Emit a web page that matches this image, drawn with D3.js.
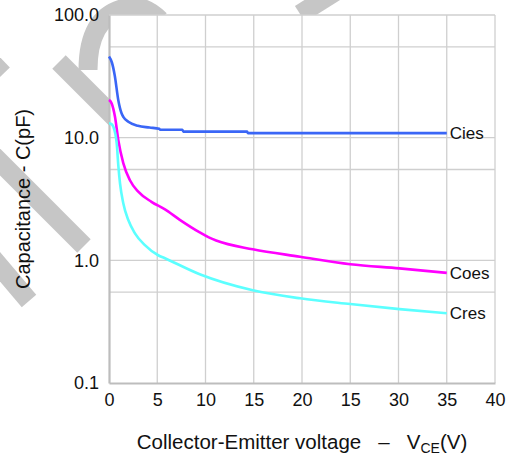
<!DOCTYPE html>
<html>
<head>
<meta charset="utf-8">
<script src="https://cdn.jsdelivr.net/npm/d3@7"></script>
<style>
  body { margin: 0; background: #fff; }
  svg { display: block; font-family: "Liberation Sans", Arial, sans-serif; }
</style>
</head>
<body>
<svg id="chart" width="509" height="457"></svg>
<script>
// capacitance vs collector-emitter voltage
const ciesV = [0, 0.3, 0.6, 0.96, 1.3, 1.5, 2, 3, 4.2, 5.2, 5.3, 7.6, 7.7, 14.3, 14.4, 35];
const ciesC = [45.8, 41, 32, 20.3, 15.8, 14.7, 13.5, 12.5, 12.1, 11.8, 11.6, 11.6, 11.2, 11.2, 10.9, 10.9];

const coesV = [0, 0.28, 0.62, 0.96, 1.48, 2.17, 3.03, 4.4, 5.8, 7.3, 9.4, 10.4, 11.1, 14.9, 19.8, 25, 30.1, 35];
const coesC = [20.3, 19, 14.8, 9.6, 6.2, 4.5, 3.63, 3.0, 2.6, 2.15, 1.69, 1.53, 1.45, 1.23, 1.07, 0.93, 0.86, 0.79];

const cresV = [0, 0.2, 0.45, 0.8, 0.96, 1.14, 1.48, 2.0, 2.69, 3.72, 5.1, 5.8, 9.4, 14.9, 19.8, 25, 30.1, 35];
const cresC = [13.1, 13, 12.3, 9.0, 6.0, 4.25, 2.92, 2.13, 1.66, 1.33, 1.10, 1.04, 0.77, 0.57, 0.49, 0.44, 0.40, 0.37];

const seriesNames = ["Cies", "Coes", "Cres"];
const seriesColors = ["#3a66f6", "#ff00ff", "#5cffff"];

const xTickValues = [0, 5, 10, 15, 20, 25, 30, 35, 40];
const xTickLabels = ["0", "5", "10", "15", "20", "15", "30", "35", "40"];
const yTickValues = [100, 10, 1, 0.1];
const yTickLabels = ["100.0", "10.0", "1.0", "0.1"];
const yGridValues = [55, 10, 5.5, 1, 0.55];

const margin = { top: 15, right: 14, bottom: 74, left: 109 };
const svg = d3.select("#chart");
const W = +svg.attr("width"), H = +svg.attr("height");
const w = W - margin.left - margin.right;
const h = H - margin.top - margin.bottom;

// watermark strokes behind the plot
const wm = svg.append("g")
  .attr("stroke", "#c6c6c6")
  .attr("stroke-width", 19)
  .attr("fill", "none");
[[[59, 62], [160, 163]], [[-10, 152], [84, 246]], [[-10, 255], [29, 301]],
 [[-20, 50], [3, 74]], [[335, -8], [300, 14]]].forEach(s => {
  wm.append("path").attr("d", d3.line()(s));
});
wm.append("path").attr("d", "M88,70 C88,35 100,14 125,8 C140,5 150,10 160,20");

const g = svg.append("g").attr("transform", `translate(${margin.left},${margin.top})`);

const x = d3.scaleLinear().domain([0, 40]).range([0, w]);
const y = d3.scaleLog().domain([0.1, 100]).range([h, 0]);

g.append("rect").attr("width", w).attr("height", h).attr("fill", "#fff");

// grid
g.append("g").selectAll("line").data(xTickValues.slice(1)).join("line")
  .attr("x1", d => x(d)).attr("x2", d => x(d)).attr("y1", 0).attr("y2", h)
  .attr("stroke", "#cfcfcf").attr("stroke-width", 1.3);
g.append("g").selectAll("line").data(yGridValues.concat([100])).join("line")
  .attr("x1", 0).attr("x2", w).attr("y1", d => y(d)).attr("y2", d => y(d))
  .attr("stroke", "#cfcfcf").attr("stroke-width", 1.3);

// axes
const xAxis = g.append("g").attr("transform", `translate(0,${h})`)
  .call(d3.axisBottom(x).tickValues(xTickValues).tickSize(0).tickPadding(10)
    .tickFormat((d, i) => xTickLabels[i]));
const yAxis = g.append("g")
  .call(d3.axisLeft(y).tickValues(yTickValues).tickSize(0).tickPadding(10)
    .tickFormat((d, i) => yTickLabels[i]));
[xAxis, yAxis].forEach(a => {
  a.select(".domain").attr("stroke", "#bdbdbd").attr("stroke-width", 2.2);
  a.selectAll("text").attr("font-size", 18).attr("fill", "#111")
    .attr("font-family", "Liberation Sans, Arial, sans-serif");
});

// curves
const seriesData = [
  ciesV.map((v, i) => [v, ciesC[i]]),
  coesV.map((v, i) => [v, coesC[i]]),
  cresV.map((v, i) => [v, cresC[i]])
];
const line = d3.line().x(d => x(d[0])).y(d => y(d[1])).curve(d3.curveMonotoneX);

g.append("g").selectAll("path").data(seriesData).join("path")
  .attr("d", line)
  .attr("fill", "none")
  .attr("stroke", (d, i) => seriesColors[i])
  .attr("stroke-width", 2.6);

g.append("g").selectAll("text").data(seriesData).join("text")
  .attr("x", d => x(d[d.length - 1][0]) + 3)
  .attr("y", d => y(d[d.length - 1][1]))
  .attr("dy", "0.35em")
  .attr("font-size", 17)
  .attr("fill", "#111")
  .text((d, i) => seriesNames[i]);

// axis titles
const xt = svg.append("text")
  .attr("x", margin.left + w / 2).attr("y", 449)
  .attr("text-anchor", "middle").attr("font-size", 20.5).attr("fill", "#111")
  .style("white-space", "pre");
xt.append("tspan").text("Collector-Emitter voltage   \u2013   V");
xt.append("tspan").attr("font-size", 14).attr("dy", 4).text("CE");
xt.append("tspan").attr("dy", -4).text("(V)");

svg.append("text")
  .attr("transform", `translate(30,${margin.top + h / 2}) rotate(-90)`)
  .attr("text-anchor", "middle").attr("font-size", 20).attr("fill", "#111")
  .text("Capacitance - C(pF)");
</script>
</body>
</html>
